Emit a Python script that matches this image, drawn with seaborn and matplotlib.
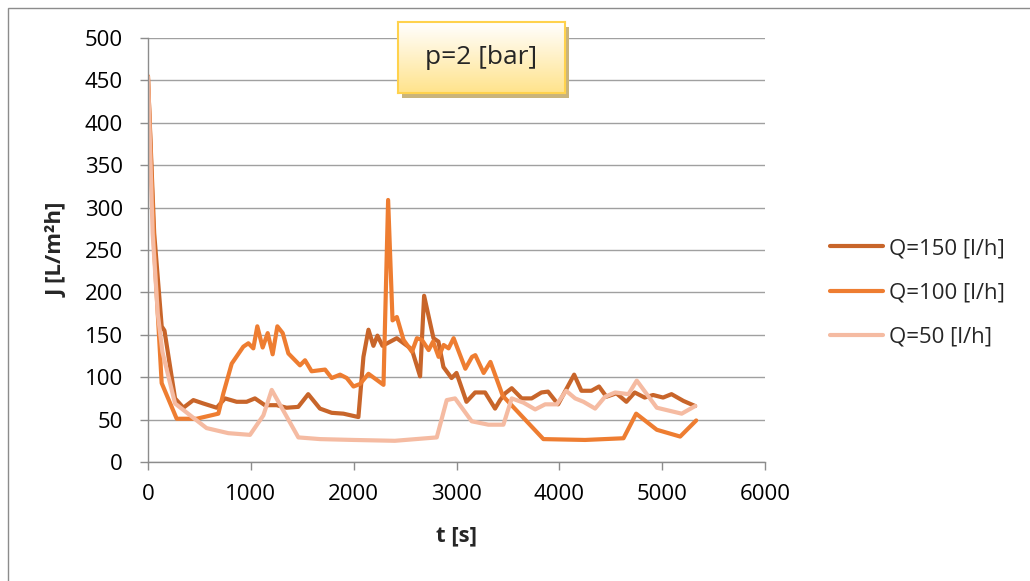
import pandas as pd
import seaborn as sns
from matplotlib import pyplot as plt
from matplotlib import patches
import numpy as np

# One series per flow rate
t150 = [0, 60, 133, 160, 263, 344, 441, 538, 668, 749, 862, 959, 1040, 1137, 1251,
        1348, 1461, 1558, 1672, 1786, 1900, 2046, 2095, 2144, 2192, 2231, 2280, 2419,
        2565, 2646, 2685, 2776, 2824, 2873, 2952, 3000, 3097, 3181, 3278, 3375, 3424,
        3473, 3537, 3634, 3731, 3826, 3890, 3988, 4144, 4215, 4312, 4386, 4458, 4555,
        4652, 4733, 4830, 4912, 5009, 5091, 5207, 5321]
j150 = [452, 270, 160, 155, 75, 64, 73, 69, 64, 75, 71, 71, 75, 67, 67,
        64, 65, 80, 63, 58, 57, 53, 124, 156, 137, 149, 137, 146,
        133, 101, 196, 146, 142, 112, 99, 105, 71, 82, 82, 63, 73,
        81, 87, 75, 75, 82, 83, 68, 103, 84, 84, 89, 77, 81,
        71, 82, 76, 79, 76, 80, 72, 66]

t100 = [0, 60, 133, 279, 473, 684, 733, 814, 927, 976, 1024, 1063, 1115, 1164,
        1212, 1258, 1310, 1365, 1478, 1527, 1591, 1722, 1786, 1868, 1933, 1998,
        2062, 2144, 2290, 2335, 2378, 2420, 2485, 2567, 2615, 2664, 2729, 2772,
        2826, 2875, 2923, 2972, 3086, 3151, 3183, 3264, 3330, 3450, 3845, 4250,
        4624, 4747, 4948, 5175, 5331]
j100 = [455, 250, 93, 51, 51, 57, 81, 116, 136, 140, 134, 160, 135, 152,
        127, 160, 152, 128, 114, 120, 107, 109, 99, 103, 99, 89,
        92, 104, 91, 309, 167, 171, 144, 130, 146, 144, 132, 142,
        124, 138, 134, 146, 110, 124, 126, 105, 118, 78, 27, 26,
        28, 57, 38, 30, 49]

t50 = [0, 45, 95, 140, 263, 569, 781, 992, 1122, 1203, 1462, 1673, 2000, 2400,
       2808, 2905, 2986, 3148, 3310, 3456, 3537, 3651, 3765, 3862, 3975, 4066,
       4154, 4235, 4348, 4445, 4543, 4672, 4753, 4948, 5190, 5321]
j50 = [454, 270, 175, 130, 69, 40, 34, 32, 55, 85, 29, 27, 26, 25,
       29, 73, 75, 48, 44, 44, 75, 70, 62, 68, 68, 84,
       75, 71, 63, 77, 82, 80, 96, 64, 57, 66]

labels = ["Q=150 [l/h]", "Q=100 [l/h]", "Q=50 [l/h]"]
colors = ["#C8652A", "#EE7D31", "#F5BBA2"]

df = pd.concat([
    pd.DataFrame({"t": t150, "J": j150, "Q": labels[0]}),
    pd.DataFrame({"t": t100, "J": j100, "Q": labels[1]}),
    pd.DataFrame({"t": t50, "J": j50, "Q": labels[2]}),
], ignore_index=True)

sns.set_theme(style="white")
plt.rcParams["font.family"] = ["Open Sans", "DejaVu Sans"]

fig = plt.figure(figsize=(10.3, 5.81), dpi=100)
ax = fig.add_axes([148 / 1030, 1 - 462 / 581, 617 / 1030, 424 / 581])

sns.lineplot(data=df, x="t", y="J", hue="Q", hue_order=labels,
             palette=colors, sort=False, estimator=None, linewidth=3.0, ax=ax)

ax.set_xlim(0, 6000)
ax.set_ylim(0, 500)
ax.set_xticks(range(0, 6001, 1000))
ax.set_yticks(range(0, 501, 50))
ax.grid(axis="y", color="#A0A0A0", linewidth=1.0)
ax.set_axisbelow(True)
for side in ["top", "right"]:
    ax.spines[side].set_visible(False)
for side in ["left", "bottom"]:
    ax.spines[side].set_color("#8C8C8C")
    ax.spines[side].set_linewidth(1.0)
ax.tick_params(axis="both", labelsize=16, colors="#8C8C8C", labelcolor="black",
               length=6, width=1.0, direction="out", bottom=True, left=True)
ax.tick_params(axis="y", pad=12)
ax.tick_params(axis="x", pad=10)
ax.set_xlabel("")
ax.set_ylabel("")
ax.get_legend().remove()

fig.text(57 / 1030, 1 - 250 / 581, "J [L/m²h]", rotation=90, ha="center",
         va="center", fontsize=16, fontweight="bold")
fig.text(456 / 1030, 1 - 536 / 581, "t [s]", ha="center", va="center",
         fontsize=16, fontweight="bold")

handles = [plt.Line2D([], [], color=c, linewidth=3.0) for c in colors]
fig.legend(handles, labels, loc="center left", bbox_to_anchor=(830 / 1030, 1 - 293 / 581),
           frameon=False, fontsize=16, handlelength=2.4, handletextpad=0.25,
           labelspacing=1.05, borderpad=0, borderaxespad=0)

# title box with shadow and soft yellow gradient
bx, by, bw, bh = 398, 22, 167, 71
shadow = patches.Rectangle(((bx + 4) / 1030, 1 - (by + bh + 5) / 581),
                           bw / 1030, bh / 581, transform=fig.transFigure,
                           facecolor="#C9B47C", edgecolor="none", zorder=2)
fig.add_artist(shadow)
tax = fig.add_axes([bx / 1030, 1 - (by + bh) / 581, bw / 1030, bh / 581])
tax.set_zorder(5)
grad = np.linspace(0, 1, 100).reshape(-1, 1)
tax.imshow(grad, aspect="auto", cmap=plt.matplotlib.colors.LinearSegmentedColormap.from_list(
    "yel", ["#FFFFFF", "#FFE38C"]), extent=[0, 1, 1, 0])
tax.set_xticks([])
tax.set_yticks([])
for s in tax.spines.values():
    s.set_color("#FFD24D")
    s.set_linewidth(1.5)
tax.text(0.5, 0.5, "p=2 [bar]", ha="center", va="center", fontsize=19,
         color="#262626", transform=tax.transAxes)

# outer chart border
fig.add_artist(patches.Rectangle((8 / 1030, -0.1), 1.2, 1.1 - 8 / 581,
                                 transform=fig.transFigure, fill=False,
                                 edgecolor="#8C8C8C", linewidth=1.0))

fig.savefig("out.png", dpi=100)
